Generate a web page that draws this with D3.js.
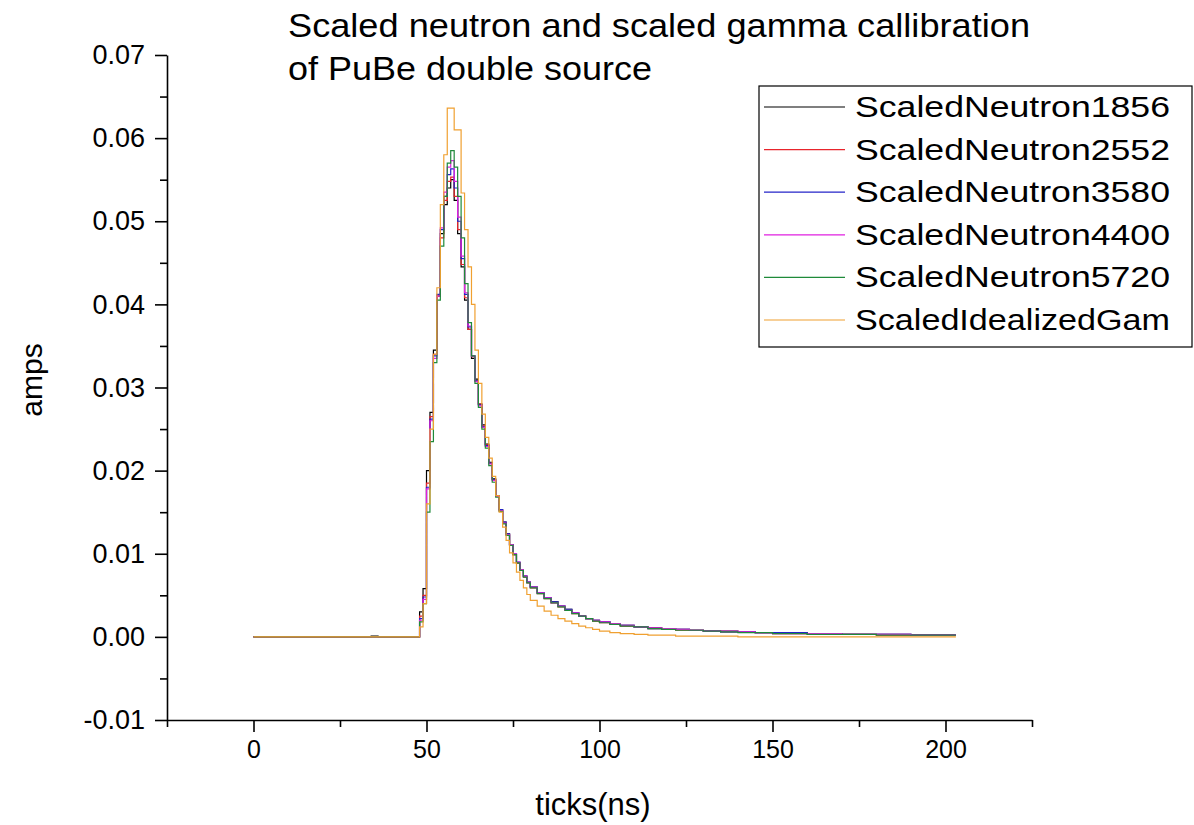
<!DOCTYPE html>
<html>
<head>
<meta charset="utf-8">
<script src="https://cdn.jsdelivr.net/npm/d3@7"></script>
<style>
  body { margin: 0; background: #fff; }
  svg { display: block; font-family: "Liberation Sans", Arial, sans-serif; }
  .axis path, .axis line { stroke: #000; stroke-width: 1.6; }
  .axis text { fill: #000; }
</style>
</head>
<body>
<svg id="chart" width="1194" height="825"></svg>
<script>
// sample times (ticks, ns)
const ticks = [0, 34, 36, 47,
  48, 49, 50, 51, 52, 53, 54, 55, 56, 57, 58, 59, 60, 61, 62, 63, 64, 65, 66, 67, 68, 69, 70,
  71, 72, 73, 74, 75, 76, 77, 78, 79, 80,
  82, 84, 86, 88, 90, 92, 94, 96, 98, 100,
  103, 106, 110, 114, 118, 122, 126, 130,
  135, 140, 145, 150,
  160, 170, 180, 190, 203];

const neutron1856 = [0, 0.0001, 0, 0,
  0.0030, 0.0058, 0.0200, 0.0270, 0.0345, 0.0410, 0.0485, 0.0520, 0.0540, 0.0550, 0.0525, 0.0485, 0.0445, 0.0405, 0.0370, 0.0335, 0.0310, 0.0280, 0.0255, 0.0232, 0.0210, 0.0190, 0.0170,
  0.0153, 0.0138, 0.0124, 0.0111, 0.0099, 0.0089, 0.0081, 0.0073, 0.0066, 0.0060,
  0.0053, 0.0047, 0.0042, 0.0037, 0.0033, 0.0029, 0.0025, 0.0022, 0.0020, 0.0018,
  0.0016, 0.0014, 0.0012, 0.0011, 0.0010, 0.0009, 0.0008, 0.0007,
  0.0007, 0.0006, 0.0005, 0.0005,
  0.0004, 0.0003, 0.0003, 0.0002, 0.0002];

const neutron2552 = [0, 0, 0, 0,
  0.0025, 0.0050, 0.0185, 0.0265, 0.0340, 0.0410, 0.0480, 0.0525, 0.0548, 0.0553, 0.0530, 0.0490, 0.0448, 0.0408, 0.0370, 0.0337, 0.0308, 0.0280, 0.0254, 0.0231, 0.0209, 0.0189, 0.0170,
  0.0152, 0.0137, 0.0123, 0.0110, 0.0099, 0.0089, 0.0080, 0.0072, 0.0065, 0.0059,
  0.0052, 0.0046, 0.0041, 0.0036, 0.0032, 0.0028, 0.0025, 0.0022, 0.0019, 0.0017,
  0.0015, 0.0013, 0.0012, 0.0010, 0.0009, 0.0008, 0.0008, 0.0007,
  0.0006, 0.0006, 0.0005, 0.0004,
  0.0004, 0.0003, 0.0002, 0.0002, 0.0002];

const neutron3580 = [0, 0, 0, 0,
  0.0022, 0.0048, 0.0180, 0.0262, 0.0338, 0.0412, 0.0490, 0.0530, 0.0556, 0.0563, 0.0540, 0.0500, 0.0455, 0.0412, 0.0373, 0.0338, 0.0308, 0.0279, 0.0253, 0.0230, 0.0209, 0.0189, 0.0170,
  0.0153, 0.0138, 0.0124, 0.0111, 0.0100, 0.0090, 0.0081, 0.0073, 0.0066, 0.0060,
  0.0053, 0.0047, 0.0042, 0.0037, 0.0033, 0.0029, 0.0025, 0.0022, 0.0020, 0.0018,
  0.0016, 0.0014, 0.0012, 0.0010, 0.0009, 0.0009, 0.0008, 0.0007,
  0.0006, 0.0006, 0.0005, 0.0005,
  0.0004, 0.0003, 0.0003, 0.0002, 0.0002];

const neutron4400 = [0, 0, 0, 0,
  0.0020, 0.0045, 0.0178, 0.0260, 0.0335, 0.0410, 0.0492, 0.0535, 0.0565, 0.0573, 0.0548, 0.0505, 0.0458, 0.0414, 0.0374, 0.0338, 0.0307, 0.0278, 0.0252, 0.0229, 0.0208, 0.0188, 0.0169,
  0.0152, 0.0137, 0.0123, 0.0111, 0.0100, 0.0090, 0.0081, 0.0073, 0.0066, 0.0060,
  0.0053, 0.0047, 0.0041, 0.0037, 0.0032, 0.0029, 0.0025, 0.0022, 0.0020, 0.0018,
  0.0016, 0.0014, 0.0012, 0.0011, 0.0010, 0.0009, 0.0008, 0.0007,
  0.0007, 0.0006, 0.0005, 0.0004,
  0.0004, 0.0003, 0.0003, 0.0002, 0.0002];

const neutron5720 = [0, 0, 0, 0,
  0.0018, 0.0040, 0.0150, 0.0235, 0.0330, 0.0405, 0.0470, 0.0530, 0.0570, 0.0585, 0.0565, 0.0530, 0.0480, 0.0425, 0.0378, 0.0338, 0.0305, 0.0276, 0.0250, 0.0227, 0.0206, 0.0186, 0.0168,
  0.0151, 0.0136, 0.0122, 0.0110, 0.0099, 0.0089, 0.0080, 0.0072, 0.0065, 0.0059,
  0.0052, 0.0046, 0.0041, 0.0036, 0.0032, 0.0028, 0.0025, 0.0022, 0.0019, 0.0017,
  0.0015, 0.0013, 0.0012, 0.0010, 0.0009, 0.0008, 0.0008, 0.0007,
  0.0006, 0.0005, 0.0005, 0.0004,
  0.0003, 0.0003, 0.0002, 0.0002, 0.0002];

const idealizedGamma = [0, 0, 0, 0,
  0.0012, 0.0040, 0.0160, 0.0250, 0.0340, 0.0420, 0.0520, 0.0580, 0.0636, 0.0636, 0.0610, 0.0610, 0.0534, 0.0490, 0.0445, 0.0400, 0.0345, 0.0305, 0.0268, 0.0240, 0.0215, 0.0193, 0.0170,
  0.0150, 0.0132, 0.0116, 0.0101, 0.0089, 0.0078, 0.0068, 0.0059, 0.0051, 0.0044,
  0.0037, 0.0031, 0.0026, 0.0022, 0.0019, 0.0016, 0.0013, 0.0011, 0.0009, 0.0007,
  0.0005, 0.0004, 0.0003, 0.0002, 0.0002, 0.0001, 0.0001, 0.0001,
  0.0001, 0, 0, 0,
  0, 0, 0, 0, 0];

const seriesNames = ["ScaledNeutron1856", "ScaledNeutron2552", "ScaledNeutron3580",
  "ScaledNeutron4400", "ScaledNeutron5720", "ScaledIdealizedGam"];
const seriesValues = [neutron1856, neutron2552, neutron3580, neutron4400, neutron5720, idealizedGamma];
const seriesColors = ["#000000", "#e8242c", "#2424c8", "#e020e0", "#1f8a3a", "#f0a030"];

const xMajor = [0, 50, 100, 150, 200];
const xMinor = [-25, 25, 75, 125, 175, 225];
const yMajor = [-0.01, 0, 0.01, 0.02, 0.03, 0.04, 0.05, 0.06, 0.07];
const yMinor = [-0.005, 0.005, 0.015, 0.025, 0.035, 0.045, 0.055, 0.065];

const plotLeft = 167, plotRight = 1032, plotTop = 55, plotBottom = 720;

const svg = d3.select("#chart");
svg.append("rect").attr("width", 1194).attr("height", 825).attr("fill", "#fff");

const x = d3.scaleLinear().domain([-25, 225]).range([plotLeft, plotRight]);
const y = d3.scaleLinear().domain([-0.01, 0.07]).range([plotBottom, plotTop]);

// x axis
svg.append("g")
  .attr("class", "axis")
  .attr("transform", "translate(0," + plotBottom + ")")
  .call(d3.axisBottom(x).tickValues(xMajor).tickSize(12).tickSizeOuter(0).tickPadding(8))
  .selectAll("text").style("font-size", "25px");
svg.append("g")
  .attr("class", "axis")
  .attr("transform", "translate(0," + plotBottom + ")")
  .call(d3.axisBottom(x).tickValues(xMinor).tickSize(7).tickSizeOuter(0).tickFormat(""))
  .select(".domain").remove();

// y axis
svg.append("g")
  .attr("class", "axis")
  .attr("transform", "translate(" + plotLeft + ",0)")
  .call(d3.axisLeft(y).tickValues(yMajor).tickSize(12).tickSizeOuter(0).tickPadding(10)
    .tickFormat(d => d.toFixed(2)))
  .selectAll("text").style("font-size", "27px");
svg.append("g")
  .attr("class", "axis")
  .attr("transform", "translate(" + plotLeft + ",0)")
  .call(d3.axisLeft(y).tickValues(yMinor).tickSize(7).tickSizeOuter(0).tickFormat(""))
  .select(".domain").remove();

// series, drawn as histogram steps
const line = d3.line()
  .x((d, i) => x(ticks[i]))
  .y(d => y(d))
  .curve(d3.curveStepAfter);

svg.append("g")
  .selectAll("path")
  .data(seriesValues)
  .enter()
  .append("path")
  .attr("d", d => line(d))
  .attr("fill", "none")
  .attr("stroke", (d, i) => seriesColors[i])
  .attr("stroke-width", 1.2);

// title
svg.append("text").attr("x", 288).attr("y", 37)
  .style("font-size", "33px").attr("textLength", 742).attr("lengthAdjust", "spacingAndGlyphs")
  .text("Scaled neutron and scaled gamma callibration");
svg.append("text").attr("x", 288).attr("y", 80)
  .style("font-size", "33px").attr("textLength", 364).attr("lengthAdjust", "spacingAndGlyphs")
  .text("of PuBe double source");

// axis titles
svg.append("text").attr("x", 593).attr("y", 815)
  .attr("text-anchor", "middle").style("font-size", "31px")
  .text("ticks(ns)");
svg.append("text")
  .attr("transform", "translate(42,380) rotate(-90)")
  .attr("text-anchor", "middle").style("font-size", "30px")
  .text("amps");

// legend
const legend = svg.append("g");
legend.append("rect")
  .attr("x", 759).attr("y", 86).attr("width", 433).attr("height", 261)
  .attr("fill", "#fff").attr("stroke", "#000").attr("stroke-width", 1.2);
seriesNames.forEach((name, i) => {
  const cy = 107 + i * 42.6;
  legend.append("line")
    .attr("x1", 764).attr("x2", 845).attr("y1", cy).attr("y2", cy)
    .attr("stroke", seriesColors[i]).attr("stroke-width", 1.2);
  legend.append("text")
    .attr("x", 855).attr("y", cy + 10)
    .style("font-size", "29px")
    .attr("textLength", 315).attr("lengthAdjust", "spacingAndGlyphs")
    .text(name);
});
</script>
</body>
</html>
